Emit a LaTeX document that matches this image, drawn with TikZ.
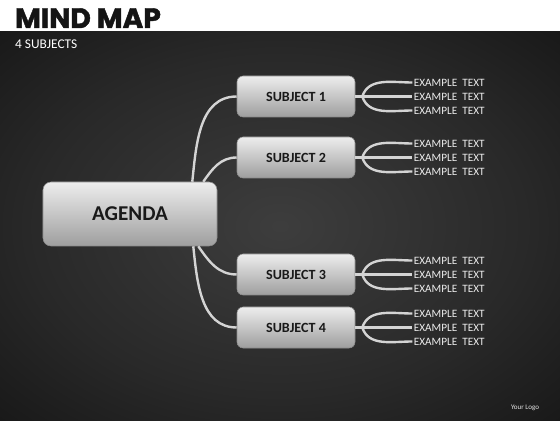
\documentclass[tikz,border=0pt]{standalone}
\usepackage{fontspec}
\setmainfont{Carlito}
\newfontfamily\titlefont{Poppins}[BoldFeatures={FakeBold=1.6}]
\usetikzlibrary{calc,shadings}
\pgfdeclareradialshading{darkglow}{\pgfpoint{0bp}{0bp}}{color(0bp)=(black!76); color(22bp)=(black!84); color(48bp)=(black!96); color(75bp)=(black)}
\tikzset{
   agenda node/.style={rectangle,rounded corners=4mm,draw=black!45,line width=0.8pt,
                       top color=black!7,bottom color=black!38,text=black!90,
                       font=\bfseries\fontsize{30}{30}\selectfont,
                       minimum width=87mm,minimum height=32mm},
   subject node/.style={agenda node,rounded corners=3mm,font=\bfseries\fontsize{20}{20}\selectfont,
                        minimum width=59mm,minimum height=20.5mm},
   example node/.style={anchor=west,inner sep=2pt,text=black!8,font=\fontsize{16}{16}\selectfont},
   branch/.style={draw=black!17,line width=3.4pt}
}

\begin{document}
\begin{tikzpicture}[x=0.5mm,y=0.5mm]
\useasboundingbox (0,0) rectangle (560,420);
\fill[white] (0,388) rectangle (560,420);
\shade[shading=darkglow] (0,0) rectangle (560,388);
%
\node[anchor=base west,inner sep=0pt,text=black!92,font=\titlefont\bfseries\fontsize{40}{40}\selectfont] (title) at (15,392) {MIND MAP};
\node[anchor=base west,inner sep=0pt,text=white,font=\fontsize{19}{19}\selectfont] (count) at (15,371) {4 SUBJECTS};
\node[inner sep=0pt,text=black!10,font=\fontsize{10}{10}\selectfont] (logo) at (525,12) {Your Logo};
%
\node[agenda node] (agenda) at (130,206) {AGENDA};
\node[subject node] (s1) at (296,323.5) {SUBJECT 1};
\node[subject node] (s2) at (296,262.5) {SUBJECT 2};
\node[subject node] (s3) at (296,145.5) {SUBJECT 3};
\node[subject node] (s4) at (296,92.5)  {SUBJECT 4};
%
\coordinate (a1) at ($ (agenda.north east) + (-25,0) $);
\coordinate (a2) at ($ (agenda.north east) + (-14,0) $);
\coordinate (a3) at ($ (agenda.south east) + (-19,0) $);
\coordinate (a4) at ($ (agenda.south east) + (-24,0) $);
\path[branch]
  (a1) edge[out=84,in=180] (s1.west)
  (a2) edge[out=55,in=180] (s2.west)
  (a3) edge[out=-55,in=180] (s3.west)
  (a4) edge[out=-84,in=180] (s4.west)
  ;
%
\foreach \s in {1,...,4}{
  \coordinate (f\s) at ($ (s\s.east) + (7,0) $);
  \node[example node] (t\s-1) at ($ (s\s.east) + (57,14) $)  {EXAMPLE\ \ TEXT};
  \node[example node] (t\s-2) at ($ (s\s.east) + (57,0) $)   {EXAMPLE\ \ TEXT};
  \node[example node] (t\s-3) at ($ (s\s.east) + (57,-14) $) {EXAMPLE\ \ TEXT};
  \draw[branch] (s\s.east) -- (f\s) -- (t\s-2.west);
  \draw[branch] (f\s) to[out=72,in=180] (t\s-1.west);
  \draw[branch] (f\s) to[out=-72,in=180] (t\s-3.west);
}
\end{tikzpicture}
\end{document}
